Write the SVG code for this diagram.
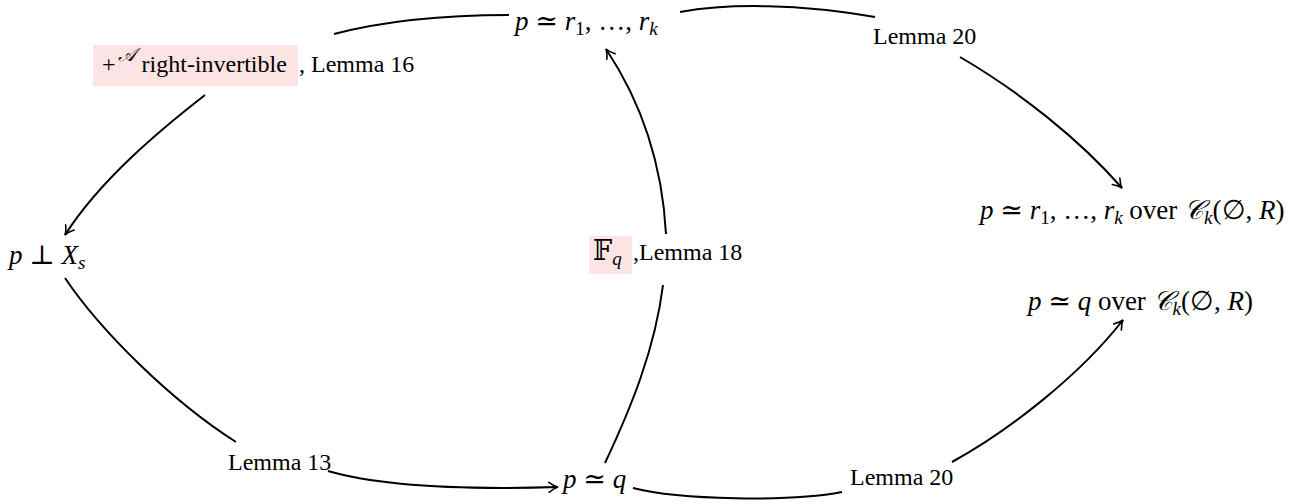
<svg xmlns="http://www.w3.org/2000/svg" width="1307" height="504" viewBox="0 0 1307 504">
<style>
text{font-family:"Liberation Serif","DejaVu Serif",serif;font-size:24px;fill:#000}
.m{font-size:27px}
.i{font-style:italic}
.s{font-size:19px}
.c{fill:none;stroke:#000;stroke-width:2}
.hl{fill:#fce4e4}
</style>
<defs>
<marker id="ah" viewBox="0 0 12 12" refX="10" refY="6" markerWidth="12" markerHeight="12" markerUnits="userSpaceOnUse" orient="auto">
<path d="M1 1 Q6 5 10 6 Q6 7 1 11" fill="none" stroke="#000" stroke-width="1.6" stroke-linecap="round"/>
</marker>
</defs>
<rect width="1307" height="504" fill="#fff"/>
<g id="connectors">
<path class="c" d="M680 12 C730 3 800 4 875 17"/>
<path class="c" d="M960 57 C1020 92 1080 140 1122 188" marker-end="url(#ah)"/>
<path class="c" d="M509 15 C440 15 380 22 334 34"/>
<path class="c" d="M205 95 C160 130 100 180 65 235" marker-end="url(#ah)"/>
<path class="c" d="M65 278 C100 330 170 400 236 442"/>
<path class="c" d="M328 471 C380 486 460 490 558 487" marker-end="url(#ah)"/>
<path class="c" d="M605 463 C630 410 655 350 663 285"/>
<path class="c" d="M666 234 C662 160 640 100 606 49" marker-end="url(#ah)"/>
<path class="c" d="M633 488 C680 500 790 502 842 492"/>
<path class="c" d="M952 462 C1010 430 1080 375 1123 320" marker-end="url(#ah)"/>
</g>
<g id="n-top"><text class="m" x="515" y="30"><tspan class="i">p</tspan> ≃ <tspan class="i">r</tspan><tspan class="s" dy="5">1</tspan><tspan dy="-5">, …, </tspan><tspan class="i">r</tspan><tspan class="s i" dy="5">k</tspan></text></g>
<g id="n-lemma16"><rect class="hl" x="93" y="45" width="205" height="41"/><text x="102" y="72">+<tspan class="s i" dx="2" dy="-11">𝒜</tspan><tspan dy="11"> right-invertible</tspan><tspan x="299">, Lemma 16</tspan></text></g>
<g id="n-lemma20a"><text x="873" y="44">Lemma 20</text></g>
<g id="n-right1"><text class="m" x="980" y="219"><tspan class="i">p</tspan> ≃ <tspan class="i">r</tspan><tspan class="s" dy="5">1</tspan><tspan dy="-5">, …, </tspan><tspan class="i">r</tspan><tspan class="s i" dy="5">k</tspan><tspan dy="-5"> over </tspan><tspan class="i">𝒞</tspan><tspan class="s i" dy="5">k</tspan><tspan dy="-5">(∅, </tspan><tspan class="i">R</tspan>)</text></g>
<g id="n-perp"><text class="m" x="9" y="264"><tspan class="i">p</tspan> ⊥ <tspan class="i">X</tspan><tspan class="s i" dy="5">s</tspan></text></g>
<g id="n-lemma18"><rect class="hl" x="589" y="236" width="43" height="38"/><text x="593" y="260"><tspan class="m">𝔽</tspan><tspan class="s i" dy="5">q</tspan><tspan x="633" dy="-5">,Lemma 18</tspan></text></g>
<g id="n-right2"><text class="m" x="1028" y="310"><tspan class="i">p</tspan> ≃ <tspan class="i">q</tspan> over <tspan class="i">𝒞</tspan><tspan class="s i" dy="5">k</tspan><tspan dy="-5">(∅, </tspan><tspan class="i">R</tspan>)</text></g>
<g id="n-lemma13"><text x="228" y="470">Lemma 13</text></g>
<g id="n-pq"><text class="m" x="563" y="488"><tspan class="i">p</tspan> ≃ <tspan class="i">q</tspan></text></g>
<g id="n-lemma20b"><text x="850" y="485">Lemma 20</text></g>
</svg>
